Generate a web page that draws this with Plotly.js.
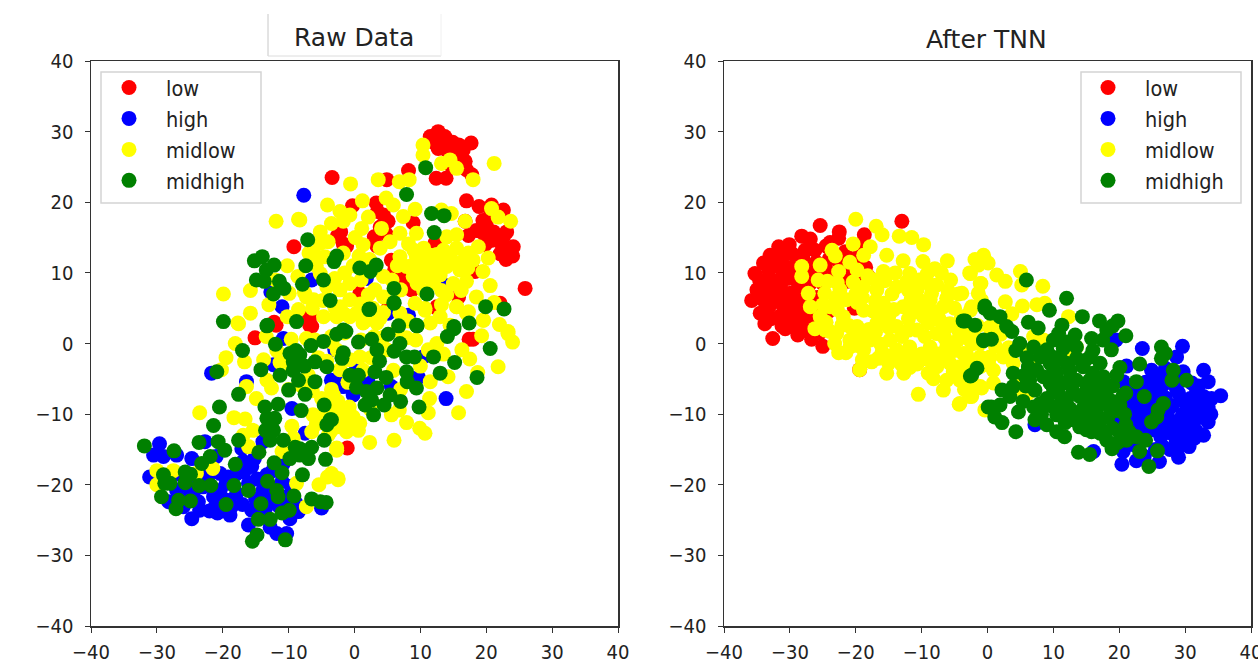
<!DOCTYPE html>
<html><head><meta charset="utf-8">
<script src="https://cdn.plot.ly/plotly-3.0.1.min.js"></script>
<style>html,body{margin:0;padding:0;background:#fff;overflow:hidden;width:1258px;height:665px}#c{width:1280px;height:665px}</style>
</head><body><div id="c"></div>
<script>
const seriesNames=["low","high","midlow","midhigh"];
const seriesColors=["#ff0000","#0000ff","#ffff00","#008000"];
const titles=["Raw Data","After TNN"];
const tickValues=[-40,-30,-20,-10,0,10,20,30,40];

const rawLow=[[11.5,29.3],[12.7,30],[13.7,29.3],[12.7,27.6],[14,27.4],[15.8,28.1],[17.7,28.4],[15.5,26.9],[16.8,25.8],[16.5,27.4],[12.4,23.4],[13.9,23.4],[17.8,23.9],[8.2,24.5],[-3.4,23.5],[4.9,23.2],[17,20.2],[18.9,19.4],[20.8,19.6],[22.6,18.9],[19.5,17.4],[19.3,15.8],[21.1,15.8],[22.6,15.1],[23.1,15.8],[17.3,15.3],[24.1,13.7],[22.1,12.7],[24,12.4],[25.9,7.8],[16.8,17.3],[19.8,14],[-0.3,19.5],[3.3,19.9],[3.5,18.7],[4.4,18.2],[5.1,17.3],[8.9,17.1],[-2.1,15.8],[3,15.1],[-1.7,14.1],[5.6,11.8],[6.1,10.4],[7.4,9.2],[8.7,7.6],[12.2,14.2],[18.3,10.2],[15.8,6.6],[22.1,5.7],[12.5,5.2],[0.8,7.1],[5,4.7],[-6.8,3.8],[-6.5,2.4],[-9.2,13.7],[-12.2,3],[-6.9,3.3],[-15.1,0.8],[-11.9,2.6],[-6.8,2.6],[-1.1,-14.8],[17.4,0.6],[5.1,5],[12.5,5],[18,0.6],[20,16.7],[21.9,14.5],[20.7,14.6],[23.5,13],[22.8,13.6],[18.5,16],[23,11.9],[20.5,18],[16,28],[14.9,28.5],[14.8,25],[17,24.6],[13,28.8],[12,28.5],[3.9,16.5],[4.8,15.5],[3.4,13.8],[-1.2,13.8],[-2.6,15.2]];
const rawHigh=[[-29.6,-14.2],[-30.5,-15.8],[-29,-16],[-27,-15.8],[-31.1,-18.9],[-24.7,-16.3],[-22.7,-13.9],[-22.2,-17.4],[-20.4,-18.4],[-19.2,-18.9],[-16.9,-16.7],[-15.6,-17.4],[-24.5,-21.2],[-23,-20.3],[-20.4,-20.8],[-17.9,-21.2],[-16.1,-19.8],[-13.3,-18.6],[-13.9,-20.8],[-24.7,-24.8],[-23.5,-23.6],[-22,-23.7],[-18.9,-24.3],[-15.6,-23.6],[-16.1,-25.7],[-12.8,-26],[-11.8,-26.9],[-10.3,-26.9],[-9.8,-24.8],[-8.5,-23.8],[-12.8,-22.2],[-10.3,-21.7],[-19.4,-22.2],[-26,-23.1],[-27,-20.8],[-21.4,-21.7],[-9.5,-9.2],[-21.7,-4.2],[-16.4,-5.4],[-13.9,-13.9],[-12.3,-3],[-7.5,-12.7],[-5,-23.3],[-17.1,-14.9],[-10.8,-17],[-10.8,0.7],[-3,-0.9],[-2.2,-5.6],[-7.7,21],[-11,5.2],[-12.7,7.3],[-6.5,9],[1.8,9.2],[13.6,8.3],[5.1,4.3],[8.2,4],[0.3,-3.5],[2,-5.2],[-1.7,-6.1],[-0.2,-7.3],[5.6,-6.1],[9.7,-4.8],[10.4,-1.9],[13.9,-7.8],[-3.5,-5.2],[-26.5,-18.5],[-18,-18.5],[-21,-16],[-15,-22],[-11,-19.5],[-25.2,-21.8],[-23.7,-22.4],[-22.3,-19],[-21.2,-23.2],[-19.5,-19.8],[-18.6,-23],[-17,-22.8],[-16.8,-18.2],[-14.8,-19.2],[-14.2,-24.6],[-13.5,-23.3],[-12,-20.5],[-11.5,-23],[-9.6,-20.2],[-8.9,-22.6],[-25.8,-20],[-28.2,-22.4],[-24,-19.2],[-20.8,-24],[-12.4,-18],[-15.2,-16.3]];
const rawMidlow=[[10.4,28.1],[10.4,26.7],[13.2,25.5],[14.5,26],[15.5,24.8],[18,23.2],[21.2,25.5],[3.6,23.2],[-0.6,22.6],[6.8,22.9],[8.3,23.2],[-18.1,0],[-16.7,-2.6],[-13.8,-2.3],[-11.3,-2.7],[-20.2,-3.7],[-9.6,0.6],[-7.3,0.7],[-17.6,2.8],[-23.5,-9.8],[-16.4,-6.1],[-14.9,-7.8],[-13.3,-5.2],[-12.6,-6.3],[-18.3,-10.5],[-16.6,-10.7],[-15.4,-12.3],[-16.9,-13],[-16.1,-14.6],[-9.5,-11.7],[-6.5,-12.5],[-6.3,-10.1],[-5,-7.8],[-3.2,-7.3],[-2.7,-14.8],[-9.3,-13.4],[-11,-15.3],[-21.5,-17.7],[-30,-18],[-27.5,-18],[-24,-18.4],[-30,-20],[-8.8,-19.8],[-5.4,-20],[-4.1,-18.9],[-2.5,-19.3],[-7.3,-23.1],[-11.9,17.3],[-8.5,17.6],[-19.9,7],[-15.8,7.5],[-15.8,4.3],[-17.7,2.9],[-10.2,11],[-8.6,9.5],[-7.6,7.2],[-9.9,7.1],[-8.5,4.8],[-10.2,3.8],[-6.9,12.8],[-4.1,19.6],[-2.2,18.7],[1.2,20.2],[-0.7,18.2],[-3.5,17],[-1.7,17.3],[-8.3,17.5],[2.1,17.9],[4.8,20.6],[5.9,19.6],[7.4,18],[4.1,16.3],[1.1,16.3],[0.1,15],[1.3,14],[-5.2,15.8],[-4,14.4],[-5.2,14.2],[-6.2,12.8],[-4.5,12.3],[-1.7,12.8],[-0.2,11],[6.9,15.6],[5.4,14.4],[3.9,13.5],[8.2,14.1],[9.2,19],[9.4,15.6],[13.2,18.9],[14.7,18.4],[16.8,17.3],[20.8,19.1],[21.8,17.9],[23.7,17.3],[18.8,13.7],[20.3,12.1],[19.5,10.2],[18,11.8],[20.6,8.2],[14,15.1],[15.5,15.4],[13.5,13.2],[15.5,13.5],[17.3,12.8],[11.5,12.5],[9.4,12.3],[6.9,12.3],[7.9,10.9],[10,10.4],[12,10.9],[14,10.9],[16,10.4],[8.9,9.5],[11,9.5],[13,9.7],[17,8.8],[18.5,6.6],[14,6.9],[13.2,5.5],[15.5,5.2],[17.3,4.5],[19.5,3.3],[11.5,2.9],[23.3,1.7],[9.2,5.7],[10.7,5],[4.4,9.5],[3.1,7.6],[2.1,6.9],[4.4,6.6],[-0.7,8.5],[-2.2,7.6],[-4.2,8],[-6.2,6.2],[-7.3,6.6],[-0.7,6.2],[-2.2,5.2],[-4.7,3.8],[-2.7,3.8],[0.3,4.3],[1.8,3.3],[3.4,2.9],[-5.2,9.9],[14.5,2.6],[19.3,1.1],[23.3,1.4],[24,0.2],[17,-6.8],[21.8,-3.3],[15.8,-9.8],[11.4,-7.8],[7.9,-11.2],[9.9,-12],[10.7,-12.7],[5.6,-10.1],[6,-13.7],[2.3,-14],[-2.7,-15.1],[0.8,-11.3],[0.6,-12.3],[-1.2,-12.5],[-0.2,-10.4],[-2.5,-8.2],[-1.9,-10.4],[-2.7,-11.8],[12.5,0],[16.3,-0.9],[17.5,-2.2],[14.2,-4.7],[11.5,-5.4],[9.3,0.5],[7.9,0.8],[4.9,-0.9],[5.9,-3.8],[0.8,-1.9],[-0.7,-2.3],[-2.2,-3.7],[-2.7,4.7],[-0.7,3.8],[1.3,2.9],[3.9,3.6],[6.9,4.3],[10.7,4.7],[15.5,5.2],[17,4.3],[19.6,3.3],[-3.5,-18.4],[-2.5,-19.1],[-13,5.5],[-12,9],[-6,0.5],[-3.5,1],[-1.5,1.5],[1,0.5],[3,1],[-8,-6],[-7,-4.5],[-5.5,-2],[-9.5,-3.5],[-3.5,-6.5],[-1,-5.5],[2.5,-2],[7,-6.5],[-4,-13],[-19.5,-2],[9,13.2],[10.5,13.5],[12.5,12.6],[14.5,12.3],[16.5,11.7],[8.7,11],[11,11.6],[13,11.5],[15,11.5],[17.2,10.7],[9.5,8.5],[12,8.6],[15,8.5],[16.2,7.5],[13.2,7.5],[10.5,7.5],[6.5,11],[5.7,9],[7,7.6],[1,9],[-1.5,10],[-3,9.2],[0.7,12.4],[2.3,11.9],[-5.8,11],[-6.4,5],[-4.8,6.1],[-3,5.2],[-1.6,4.2],[0.9,5.6],[2.8,5],[4.4,4.4],[8.1,3.2],[13,3.8],[-4.2,-2.5],[-2.6,-1],[-3.4,0.2],[1.3,-3.8],[6.5,1.9],[4.4,0.9],[11.2,-0.9],[10,-3.2],[13.5,-1.5],[-2.8,-9.2],[-0.8,-9],[-4.4,-9.9],[-5.8,-11.4],[-3.6,-12.4],[-1.1,-11.4],[2.4,-9.3],[6.8,-9.4],[11.2,-9.8],[-11.8,-1],[-13.4,1],[-10,-6.5],[-6.4,-6.7],[21.2,5.8],[22,2.7],[18.7,-4.1]];
const rawMidhigh=[[10.8,24.9],[7.9,21.1],[2.3,4.9],[6,5.7],[6.7,2.5],[9.5,2.5],[5.1,1.3],[-2.7,1.3],[-1.3,1.7],[0.6,0.2],[2.6,0.6],[3.4,-0.9],[6.9,0],[6,-1.1],[-1.7,-1.3],[-1.9,-2.1],[3.8,-2.5],[7.9,-1.9],[9.1,-1.9],[12,-1.9],[15.2,-2.7],[13,-4.2],[18.6,-4.8],[20.6,-0.7],[14.1,1],[15.1,2.1],[17.4,2.9],[19.9,5.2],[22.7,4.9],[3.1,-4],[4.8,-4.8],[7.9,-4],[8,-5.4],[9.4,-6.3],[-0.7,-4.5],[0.6,-4.5],[0.3,-6.2],[1.8,-6.8],[3.4,-6.3],[1.6,-8.7],[2.9,-10.1],[2.6,-8],[4.5,-8.7],[5.4,-7.3],[7,-8.2],[9.8,-9],[-3.5,-10.8],[-15.2,11.7],[-14,12.3],[-12.2,11.1],[-13.4,10.4],[-14.9,9],[-13.7,8.8],[-11.4,8.8],[-10.7,7.8],[-12.3,7],[-7.9,8.4],[-7.1,14.7],[-7.4,11],[-19.9,3.1],[-13.2,2.6],[-8.8,3.1],[-4.7,9],[-3.1,11.6],[-2.7,12.4],[0.8,10.7],[3.3,11.1],[2.4,10.2],[-3.7,6.1],[2.2,4.8],[6,7.8],[6,5.8],[11,7],[11.7,18.4],[13.6,18.1],[12.1,15.7],[9.4,2.6],[15.1,2.4],[-1.7,1.9],[-13.3,2.5],[-12,-0.1],[-17,-1],[-4.7,0.3],[-6.6,-0.3],[-9.8,-1.4],[-8.3,-1.6],[-6,-2.6],[-4.2,-3.3],[-20.9,-4],[-14.2,-3.7],[-11.3,-4.5],[-9.3,-3.8],[-8.5,-5.2],[-6,-5.4],[-10,-6.6],[-7.5,-7.2],[-17.6,-7.2],[-20.5,-9],[-13.6,-9],[-11.6,-8.6],[-8.1,-9.5],[-4.6,-8.7],[-21.4,-11.6],[-13.3,-10.6],[-12.1,-10.6],[-13.5,-12.3],[-12.3,-12.3],[-12.8,-13.7],[-10.8,-13.7],[-3.7,-10.8],[-4.2,-11.5],[-4.6,-13.7],[-17.6,-13.7],[-23.6,-14],[-31.9,-14.5],[-27.4,-15.2],[-20.7,-13.9],[-19.7,-15.1],[-14.5,-15.4],[-21.9,-16],[-23.2,-17],[-18.1,-17.1],[-12.2,-16.9],[-8.3,-14.9],[-6.5,-14.7],[-9.8,-16.3],[-8.3,-15.8],[-7,-16.3],[-4.4,-16.4],[-11,-18.3],[-7.9,-18.6],[-29,-18.6],[-28.8,-19.8],[-28,-19.8],[-25.7,-18.2],[-24.9,-18.5],[-25.7,-19.7],[-23.6,-20.1],[-21.8,-20.1],[-18.3,-20.1],[-16.1,-20.8],[-13.2,-19.5],[-11.8,-20.8],[-11.6,-21.7],[-9.2,-21.6],[-29.3,-21.7],[-26.7,-22.2],[-27.1,-23.4],[-24.9,-22.3],[-19.5,-22.8],[-14.2,-22.7],[-6.5,-22],[-5.2,-22.4],[-4.3,-22.5],[-14.6,-24.9],[-12.8,-24.9],[-11,-24],[-9.9,-23.6],[-14.8,-27.1],[-15.5,-28],[-10.5,-27.8],[-9.3,-2.6],[-8.3,-2.8],[-7.6,-3.2],[-8.9,-1],[-7.7,-15.2],[-9,-14.7]];

const tnnLow=[[-25.4,16.7],[-13,17.3],[-22.5,15.8],[-28.2,15.2],[-26.9,14.8],[-18.7,15.4],[-22.6,14.9],[-23.9,14.3],[-31.7,13.7],[-30.1,14],[-33,12.5],[-34,11.4],[-35.3,9.9],[-35.8,6.1],[-34.3,7.8],[-34.5,4.3],[-32.6,0.7],[-30.7,2.1],[-28.8,1.2],[-26.7,0.6],[-25,-0.4],[-27.7,13.2],[-26.2,13.2],[-21.6,13],[-21.4,8.8],[-18.1,9.5],[-32.5,12],[-31,12.5],[-29.5,12.6],[-28,12],[-26,11.5],[-33.2,10.4],[-31.6,10.8],[-30,10.7],[-28.5,10.3],[-26.5,10],[-33.5,9],[-32,8.9],[-30.4,9.2],[-28.8,8.7],[-27,8.4],[-34.1,6.2],[-32.7,7.3],[-31.2,7.5],[-29.7,7.2],[-28,6.9],[-26.5,6.5],[-33.2,5.1],[-31.5,5.8],[-30,5.5],[-28.4,5.1],[-27,4.5],[-32.9,3.5],[-31.5,3.9],[-29.8,3.7],[-28.2,3.4],[-26.6,3],[-31.2,2.5],[-29.2,2.2],[-27.5,1.8],[-24.5,13.8],[-24,12],[-22.5,11.5],[-20.5,10.3],[-24.5,10.5],[-20,9],[-23,9],[-18.5,10.8],[-20.2,5],[-25.5,1.5],[-24.2,4.5],[-19.4,-3.7],[-34.6,9],[-35,7.6],[-33.8,2.8],[-33,11.7],[-31.2,11.5],[-29,11.2],[-27.4,11.1],[-31,9.9],[-29,9.8],[-27.6,7.8],[-31,6.6],[-29,6.3],[-26.6,5.4],[-33,6.4],[-30.4,4.4],[-29,4.5],[-27.4,2.6],[-22,12.4],[-20,12],[-19.5,13.6],[-25,8.5],[-25.8,6.5],[-25.5,4]];
const tnnHigh=[[23.5,-0.7],[29.6,-0.4],[28.7,-1.9],[32.8,-3.8],[33.5,-5.4],[35.4,-7.4],[29.7,-4],[21.1,-3.2],[20.6,-5.4],[24.9,-3.8],[26.2,-4.5],[7.2,-11.5],[16.1,-15.3],[20.4,-17.1],[22.6,-16.6],[26.1,-16.7],[29,-16.1],[30.6,-14.6],[32.8,-13],[33.5,-11.1],[33.5,-9],[32.8,-7.5],[31.7,-6.4],[20.6,-15.3],[16,-10.4],[16.3,-5.4],[19.5,0.5],[24,-5.5],[26.5,-6],[28.7,-6.5],[30.8,-7.8],[24.5,-7],[27,-7.7],[29.3,-8],[31.5,-9.1],[22.5,-8.5],[24.8,-9],[27.4,-9.5],[29.6,-10],[32,-10.5],[21.5,-10.5],[23.4,-11],[26,-11.5],[28.3,-11.7],[30.4,-12],[31.7,-12.4],[21.4,-12.4],[24,-12.6],[26.3,-13.2],[28.6,-13.5],[30,-14],[22,-14.3],[25.5,-15],[27.7,-15],[23.8,-16],[25,-5],[30,-5],[32,-6],[28,-11],[21,-9],[19.5,-11.5],[27,-3.5],[31,-9.4],[33,-8.2],[29,-7],[26,-7.2],[28,-8.8],[30.3,-9],[32.2,-8.9],[23,-7],[22.4,-10],[24.6,-10.4],[26.8,-10.6],[29.2,-11],[31,-11],[22.8,-12],[25.2,-12.2],[27.5,-12.6],[29.7,-13],[31.4,-13.4],[23.3,-13.9],[26.6,-14.6],[28.9,-14.8],[24.8,-5.7],[27.8,-5.5],[29.3,-5.2],[31,-5.6],[21.5,-6.8],[20.4,-10],[25,-7.6],[23.5,-9.5],[26,-8.7],[21.8,-7.9],[33.9,-10],[34,-7.8]];
const tnnMidlow=[[-20,17.6],[-16.9,16.6],[-20.4,14.1],[-16,15.4],[-13.4,15.2],[-11.5,15],[-9.7,14],[-17.8,13.7],[-23.6,13.2],[-23.1,12.4],[-28.2,10.9],[-28.2,9.5],[-25.4,11.1],[-20.9,11.5],[-22.6,10.2],[-19.8,10.4],[-18.8,12.5],[-15.3,12.5],[-12.8,11.7],[-9.8,11.6],[-6.1,11.7],[-8,10.6],[-9.2,9.8],[-1.9,11.9],[-0.6,12.5],[-2.6,9.9],[-1.1,8.5],[-1.4,7.1],[-5.6,9],[-4.4,7],[-7.7,8.3],[-11.8,9.9],[-15.8,10.2],[-26.9,5.2],[-27.2,7.1],[-25.7,9],[-24.7,7.1],[-26.2,2.1],[-23.9,1.7],[-22.6,-1.3],[-19.4,-3.7],[-15.3,-4.2],[-12.7,-4.2],[-10.5,-7.2],[-9,-4.2],[-6.7,-6.6],[-4.3,-8.6],[-2.4,-7.5],[-10.7,-2.9],[-16.6,-2.1],[-17.6,-2.6],[-13.8,-0.9],[-12.8,-1.6],[-7.7,-3.3],[-5.7,-2.8],[-4.2,-5.2],[-1.1,-6.1],[-8.7,-0.5],[-6.2,-0.5],[-3.7,1.4],[-2.1,0],[-2.6,4.7],[-6.7,5.2],[-8.7,6.2],[-10.7,7.6],[-13.8,8],[-16.8,7.6],[-18.8,8],[-22.4,7.6],[-21.4,6.2],[-23.9,5.2],[-25.4,3.8],[-21.9,3.8],[-18.8,4.7],[-15.8,5.7],[-12.8,5.2],[-9.7,3.8],[-5.7,2.8],[-7.7,1.4],[-10.7,1.9],[-13.8,2.4],[-16.8,2.9],[-19.8,2.4],[-22.9,1.4],[-20.9,0.5],[-17.8,0.5],[-14.8,0.5],[-11.8,-0.5],[-18.8,-0.9],[-20.9,-0.5],[-3.7,-1.4],[-3.7,-3.3],[-6.2,-5.2],[-2.7,10],[-1.4,11.1],[0.1,11.4],[1.4,9.7],[-1,8.5],[2.7,8.8],[5,10.2],[5.2,8.3],[8.4,8.1],[2.7,5.9],[5.3,5.3],[7.5,5.5],[8.7,5.7],[12.3,3.8],[-2.4,5.2],[-3.7,3.8],[-0.4,-9.4],[-4.2,-8.5],[-2.7,-7.5],[-0.9,-6.3],[-3.9,7.1],[0.9,-3.8],[2.4,-1.9],[0.4,-1.9],[-1.1,-1.9],[-3.2,-1.4],[-4.2,-3.3],[0.9,-5.6],[3.9,-2.8],[6.2,-7],[7,1],[8.5,0.5],[13.5,-0.5],[-1.1,0],[-2.7,0.5],[-24.5,3],[-23,6.5],[-20,7],[-17,6],[-14.5,7],[-12,7.5],[-10,6],[-8,4.5],[-6,7.5],[-5,5],[-4,3.5],[-12,3.5],[-15,3.8],[-18,2],[-21,2.5],[-9.5,1],[-6.5,0.8],[-16,-1.2],[-13,-3],[-10,-1.5],[-7.5,-1.5],[-5,-1],[-1.5,2.5],[-19,-2.3],[-9,8.5],[-7,10],[-14,10],[-17,9],[-19,6.5],[-11,4.5],[-13,1],[-16,4.3],[-3,-4.5],[-1,-3.2],[-7,3],[-4.5,0.5],[5,-5],[-24.3,8.8],[-22.8,8.6],[-20.4,8.7],[-18.2,9.6],[-15.6,8.9],[-12.3,8.7],[-10.4,9],[-8.5,7.1],[-6.2,6.4],[-25,5.5],[-22.8,4.8],[-19.8,5.8],[-17.4,4.6],[-14.2,4.8],[-11.6,6.2],[-9.2,5],[-7.4,3.6],[-24.6,1.9],[-22.1,2.6],[-19.6,1.2],[-17,1.6],[-15,2.3],[-12,1.9],[-9,2.9],[-6.6,1.9],[-4.5,2],[-23.2,0],[-21.5,-1.3],[-19.6,-0.3],[-16.2,-0.1],[-14.2,-1.6],[-11.4,-1.8],[-9.2,-2.2],[-6.4,-2],[-4.8,-3.6],[-2.3,-2.5],[-15,-2.8],[-11.8,-3.4],[-8.2,-5],[-5.2,-4],[-2.2,-5.7],[0.2,-3],[1.2,-0.4],[3.2,-0.6],[-2.2,1.8],[0.3,2.3],[2,1.3],[1.1,3.2],[-0.9,6.1],[3.7,4.2],[-3.5,-6.5],[4.9,-6.4],[6.6,-2.3],[5.5,-0.9],[12.8,-1.5]];
const tnnMidhigh=[[5.9,9],[12,6.4],[9.4,4.7],[14.4,3.8],[17,3.2],[19.8,3.2],[21,1.1],[-0.4,5.3],[0.4,4.3],[1.9,3.8],[-3.4,3.2],[-1.9,2.6],[2.9,2.4],[3.7,1.7],[6.2,3],[7.7,2.2],[11.3,2.6],[10.8,1.4],[13.3,1.2],[15.8,0.7],[18.1,1.9],[19,2.5],[18.8,-0.9],[-0.6,0.4],[0.6,0.6],[4.9,0],[4.3,-1],[26.4,-0.5],[27,-1.4],[26.4,-2.1],[23.1,-2.9],[20.1,-3.4],[22.6,-5.4],[28,-5.2],[30.2,-5.2],[28.2,-3.8],[-1.6,-3.5],[-2.6,-4.6],[3.9,-4.2],[2.2,-6.6],[3.9,-6.1],[3.4,-7.5],[5.4,-8.2],[4.7,-9.7],[7.2,-10.8],[0.6,-9],[1.9,-8.7],[1.1,-10.4],[2.2,-11.2],[4.3,-12.5],[23.8,-7.5],[26.7,-8.5],[25.9,-9.4],[24.9,-11.1],[25.7,-10.4],[10.5,-12.5],[11.7,-13.2],[13.8,-15.4],[15.5,-15.7],[18.9,-14.9],[25.8,-15.2],[23.1,-15.3],[24.5,-17.4],[21.1,-13.7],[24,-13.7],[22.6,-13.2],[20.1,-12.7],[17.1,-12.7],[15.8,-12.5],[18.1,-13.7],[8,-1.9],[9,-0.9],[6.2,-3.3],[7.5,-3.8],[9.5,-2.8],[11,-1.9],[11.5,-0.7],[13.5,-2.1],[15.6,-1.9],[17.1,-2.8],[14.5,-3.3],[12.5,-3.8],[10.5,-4.2],[8.5,-4.7],[6.4,-5.2],[7.2,-6.6],[9.5,-5.6],[11.5,-5.6],[13.5,-5.2],[16,-4.2],[17.6,-4.7],[18.1,-6.1],[15.1,-6.4],[13,-6.8],[10.8,-7.1],[9,-7.8],[8,-8.5],[10,-9],[12,-8],[14,-7.5],[16,-8],[18.1,-7.5],[20.6,-7.3],[20.1,-8.7],[18.6,-9],[16.6,-9.2],[14.5,-9.2],[12.5,-9.2],[10.5,-10.1],[13,-10.8],[15.1,-10.4],[18.3,-10.4],[14,-11.8],[16,-11.3],[-3.7,3.2],[-0.4,5],[-0.6,0.5],[-2.4,-4.5],[0.1,-9],[9.5,-1.7],[10,-3.4],[12,-2.8],[14.8,-2.4],[12.6,-4.8],[15.5,-5.2],[16.8,-5.7],[10,-6.4],[16.5,-6.7],[8.8,-8.6],[11.1,-8.5],[15,-8.4],[17,-8.5],[11.5,-10],[13.8,-9.9],[16.6,-10.3],[19,-8.2],[11.8,-11.2],[15,-12.2],[17,-11.5],[19,-12],[21.5,-12.5],[19.8,-14],[13.5,-0.5],[12,0.2],[16,-1],[17.5,0.5],[6,-2],[5.6,-4.5],[5.8,-6],[7,-9],[8.2,-10],[9,-11.5],[19,-6],[19.5,-9.5],[20.8,-10],[21,-7],[19.6,-4.5],[21,-11.5],[7,-0.5],[10,0.5]];

const rawSeries=[rawLow,rawHigh,rawMidlow,rawMidhigh];
const tnnSeries=[tnnLow,tnnHigh,tnnMidlow,tnnMidhigh];
const W=1280,H=665;
const px=v=>v/W, py=v=>1-v/H;

function traces(series,xa,ya,lg){
  return series.map((pts,i)=>({
    type:"scatter",mode:"markers",name:seriesNames[i],
    x:pts.map(p=>p[0]),y:pts.map(p=>p[1]),xaxis:xa,yaxis:ya,legend:lg,
    marker:{color:seriesColors[i],size:15,line:{width:0}}
  }));
}
function axis(dom,anchor,standoff){
  return {domain:dom,anchor:anchor,range:[-40,40],tickmode:"array",tickvals:tickValues,
    showgrid:false,zeroline:false,showline:true,mirror:true,linecolor:"#333",linewidth:1.5,
    ticks:"outside",ticklen:5,tickwidth:1,tickcolor:"#333",ticklabelstandoff:standoff,
    tickfont:{family:"DejaVu Sans Condensed, DejaVu Sans",size:20,color:"#222"}};
}
const legendBase={orientation:"v",xanchor:"left",yanchor:"top",bgcolor:"rgba(255,255,255,0)",
  borderwidth:0,itemwidth:64,
  font:{family:"DejaVu Sans Condensed, DejaVu Sans",size:21.5,color:"#222"}};
function legendBox(x0){
  return {type:"rect",xref:"paper",yref:"paper",x0:px(x0),x1:px(x0+160),y0:py(72),y1:py(203),layer:"above",
    fillcolor:"rgba(255,255,255,0.8)",line:{color:"#d4d4d4",width:1.5}};
}
const layout={
  width:W,height:H,margin:{l:0,r:0,t:0,b:0},paper_bgcolor:"#fff",plot_bgcolor:"#fff",showlegend:true,
  xaxis:axis([px(91),px(618)],"y",2),yaxis:axis([py(626),py(61)],"x",7),
  xaxis2:axis([px(724),px(1251)],"y2",2),yaxis2:axis([py(626),py(61)],"x2",7),
  legend:Object.assign({},legendBase,{x:px(92),y:py(67)}),
  legend2:Object.assign({},legendBase,{x:px(1071),y:py(67)}),
  annotations:[
    {xref:"paper",yref:"paper",x:px(354),y:py(37),text:titles[0],showarrow:false,xanchor:"center",yanchor:"middle",font:{family:"DejaVu Sans",size:25,color:"#222"}},
    {xref:"paper",yref:"paper",x:px(986.5),y:py(39),text:titles[1],showarrow:false,xanchor:"center",yanchor:"middle",font:{family:"DejaVu Sans",size:25,color:"#222"}}
  ],
  shapes:[
    legendBox(101),legendBox(1081),
    {type:"line",xref:"paper",yref:"paper",x0:px(268),x1:px(268),y0:py(14),y1:py(56),line:{color:"#c8c8c8",width:1}},
    {type:"line",xref:"paper",yref:"paper",x0:px(268),x1:px(441),y0:py(56),y1:py(56),line:{color:"#dcdcdc",width:1}},
    {type:"line",xref:"paper",yref:"paper",x0:px(441),x1:px(441),y0:py(14),y1:py(56),line:{color:"#f0f0f0",width:1}}
  ]
};
Plotly.newPlot("c",traces(rawSeries,"x","y","legend").concat(traces(tnnSeries,"x2","y2","legend2")),layout,{displayModeBar:false,staticPlot:true});
</script></body></html>
